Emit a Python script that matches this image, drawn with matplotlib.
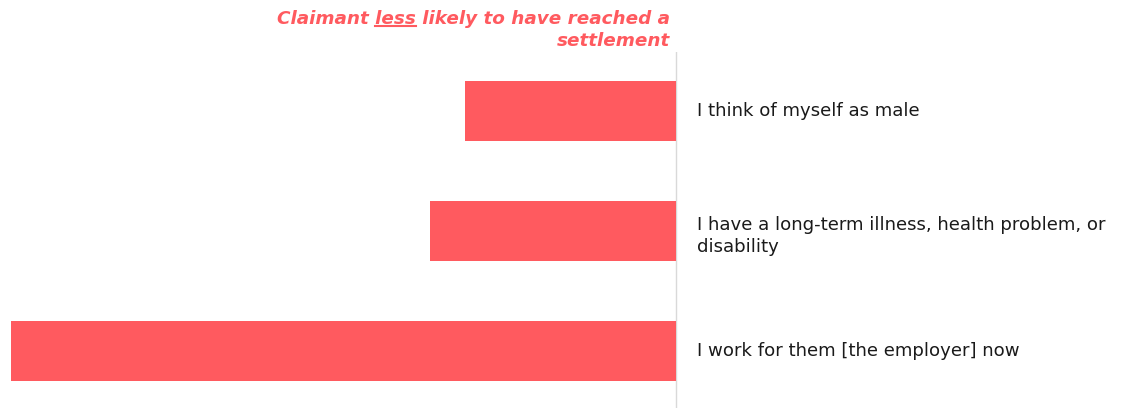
import matplotlib
matplotlib.use("Agg")
import matplotlib.pyplot as plt
from matplotlib.lines import Line2D

categories = [
    "I think of myself as male",
    "I have a long-term illness, health problem, or\ndisability",
    "I work for them [the employer] now",
]
values = [-0.317, -0.370, -1.000]

BAR = "#FF5A5F"
W, H = 1144, 408
fig = plt.figure(figsize=(W / 100, H / 100), dpi=100)
ax = fig.add_axes([0, 0, 1, (H - 52) / H])

ypos = list(range(len(categories)))
ax.barh(ypos, values, height=0.5, color=BAR, zorder=2)
ax.set_xlim(-676 / 665, (W - 676) / 665)
ax.set_ylim(2 + (408 - 351) / 120, -(111.5 - 52) / 120)
ax.axvline(0, color="#D9D9D9", lw=1.0, zorder=1)
ax.axis("off")

for y, lab in zip(ypos, categories):
    dy = -5 if "\n" in lab else 0
    ax.annotate(lab, xy=(0, y), xytext=(21, dy), textcoords="offset pixels",
                ha="left", va="center", fontsize=13.1, color="#1a1a1a",
                family="DejaVu Sans", linespacing=1.25)

# title
tx = 670 / W
line1 = "Claimant less likely to have reached a"
tprops = dict(fontsize=13.2, fontweight="bold", fontstyle="italic", color=BAR,
              family="DejaVu Sans")
t1 = fig.text(tx, 1 - 19 / H, line1, ha="right", va="center", **tprops)
fig.text(tx, 1 - 41 / H, "settlement", ha="right", va="center", **tprops)

fig.canvas.draw()
r = fig.canvas.get_renderer()
bb = t1.get_window_extent(r)

def width(s):
    t = fig.text(0, 0, s, **tprops)
    w = t.get_window_extent(r).width
    t.remove()
    return w

x_end = bb.x0 + width("Claimant less")
x_start = x_end - width("less")
yline = bb.y0 + 2
fig.add_artist(Line2D([x_start / W, x_end / W], [yline / H, yline / H],
                      color=BAR, lw=1.5, transform=fig.transFigure))

fig.savefig("out.png", dpi=100)
